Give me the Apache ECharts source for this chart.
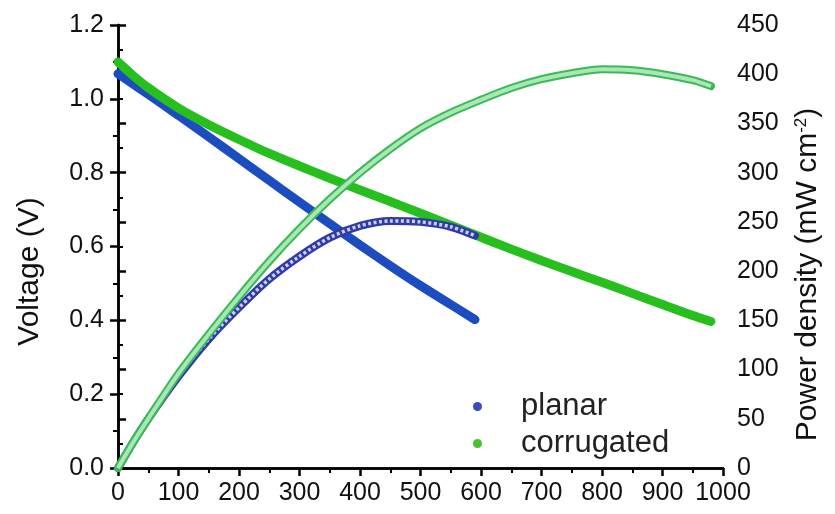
<!DOCTYPE html>
<html>
<head>
<meta charset="utf-8">
<script src="https://cdn.jsdelivr.net/npm/echarts@6/dist/echarts.min.js"></script>
<style>
html,body{margin:0;padding:0;background:#fff;}
#chart{width:835px;height:514px;}
</style>
</head>
<body>
<div id="chart"></div>
<script>
// Current density (mA cm^-2)
const planarCurrent = [0, 25, 50, 100, 150, 200, 250, 300, 350, 400, 450, 500, 550, 590];
const planarVoltage = [1.068, 1.04, 1.012, 0.955, 0.897, 0.838, 0.779, 0.72, 0.662, 0.604, 0.548, 0.494, 0.443, 0.402];
const planarPower = [0, 26, 50, 93, 131, 163, 192, 215, 234, 246, 251, 250, 245, 236];

const corrugatedCurrent = [0, 25, 50, 100, 150, 200, 250, 300, 350, 400, 450, 500, 550, 600, 650, 700, 750, 800, 850, 900, 950, 980];
const corrugatedVoltage = [1.10, 1.063, 1.03, 0.975, 0.93, 0.89, 0.852, 0.818, 0.785, 0.753, 0.722, 0.69, 0.658, 0.625, 0.593, 0.562, 0.532, 0.503, 0.473, 0.443, 0.413, 0.397];
const corrugatedPower = [0, 26, 50, 96, 136, 174, 210, 243, 273, 300, 324, 345, 361, 374, 386, 395, 401, 405, 404, 400, 394, 388];

const legendNames = ['planar', 'corrugated'];
const leftAxisName = 'Voltage (V)';
const rightAxisName = 'Power density (mW cm{sup|-2})';

const FONT = 'Liberation Sans, Arial, sans-serif';

function zip(xs, ys) { return xs.map((x, i) => [x, ys[i]]); }

const chart = echarts.init(document.getElementById('chart'), null, {renderer: 'canvas'});

const axisLine = {show: true, lineStyle: {color: '#000', width: 2.5}};
const axisTick = {show: true, inside: false, length: 8, lineStyle: {color: '#000', width: 2.5}};
const minorTick = {show: true, splitNumber: 2, length: 5, lineStyle: {color: '#000', width: 2}};
const axisLabel = {color: '#111', fontSize: 25, fontFamily: FONT};
const SMOOTH = 0.3;

const option = {
  animation: false,
  backgroundColor: '#fff',
  grid: {left: 118, right: 112, top: 25, bottom: 46, containLabel: false},
  legend: {
    orient: 'vertical',
    left: 468,
    top: 386,
    itemWidth: 9,
    itemHeight: 9,
    itemGap: 6,
    selectedMode: false,
    textStyle: {fontSize: 31, fontFamily: FONT, color: '#222', padding: [0, 0, 0, 34]},
    data: [
      {name: legendNames[0], icon: 'circle', itemStyle: {color: '#3c4cb8'}},
      {name: legendNames[1], icon: 'circle', itemStyle: {color: '#4cc030'}}
    ]
  },
  xAxis: [
    {
      type: 'value', min: 0, max: 1000, interval: 100, position: 'bottom',
      axisLine, axisTick, minorTick,
      axisLabel: Object.assign({margin: 13, formatter: v => String(v)}, axisLabel),
      splitLine: {show: false}
    },
    {
      type: 'value', min: 0, max: 1000, interval: 100, position: 'top',
      axisLine, axisTick: {show: false}, axisLabel: {show: false}, splitLine: {show: false}
    }
  ],
  yAxis: [
    {
      type: 'value', min: 0, max: 1.2, interval: 0.2, position: 'left',
      name: leftAxisName, nameLocation: 'middle', nameGap: 73, nameRotate: 90,
      nameTextStyle: {fontSize: 30, fontFamily: FONT, color: '#111', padding: [0, 50, 0, 0]},
      axisLine, axisTick, minorTick,
      axisLabel: Object.assign({margin: 14, formatter: v => v.toFixed(1)}, axisLabel),
      splitLine: {show: false}
    },
    {
      type: 'value', min: 0, max: 450, interval: 50, position: 'right',
      name: rightAxisName, nameLocation: 'middle', nameGap: 70, nameRotate: 90,
      nameTextStyle: {fontSize: 30, fontFamily: FONT, color: '#111', padding: [0, 56, 0, 0],
        rich: {sup: {fontSize: 17, fontFamily: FONT, color: '#111', verticalAlign: 'top', padding: [0, 0, 12, 0]}}},
      axisLine, axisTick, minorTick,
      axisLabel: Object.assign({margin: 14, formatter: v => String(v)}, axisLabel),
      splitLine: {show: false}
    }
  ],
  series: [
    {
      name: legendNames[0], type: 'line', xAxisIndex: 0, yAxisIndex: 0, z: 2,
      data: zip(planarCurrent, planarVoltage), smooth: SMOOTH, showSymbol: false,
      lineStyle: {color: '#1c4dc0', width: 9, cap: 'round'}
    },
    {
      name: legendNames[1], type: 'line', xAxisIndex: 0, yAxisIndex: 0, z: 2,
      data: zip(corrugatedCurrent, corrugatedVoltage), smooth: SMOOTH, showSymbol: false,
      lineStyle: {color: '#26bf1e', width: 9, cap: 'round'}
    },
    {
      name: 'planar power', type: 'line', xAxisIndex: 0, yAxisIndex: 1, z: 3,
      data: zip(planarCurrent, planarPower), smooth: SMOOTH, showSymbol: false,
      lineStyle: {color: '#2f3aa8', width: 8, cap: 'round'}
    },
    {
      name: 'planar power inner', type: 'line', xAxisIndex: 0, yAxisIndex: 1, z: 4,
      data: zip(planarCurrent, planarPower), smooth: SMOOTH, showSymbol: false,
      lineStyle: {color: '#c8d0f4', width: 3.5, type: [3, 2.5]}
    },
    {
      name: 'corrugated power', type: 'line', xAxisIndex: 0, yAxisIndex: 1, z: 5,
      data: zip(corrugatedCurrent, corrugatedPower), smooth: SMOOTH, showSymbol: false,
      lineStyle: {color: '#3cb85a', width: 8, cap: 'round'}
    },
    {
      name: 'corrugated power inner', type: 'line', xAxisIndex: 0, yAxisIndex: 1, z: 6,
      data: zip(corrugatedCurrent, corrugatedPower), smooth: SMOOTH, showSymbol: false,
      lineStyle: {color: '#a8e8b2', width: 4}
    }
  ]
};
chart.setOption(option);
</script>
</body>
</html>
